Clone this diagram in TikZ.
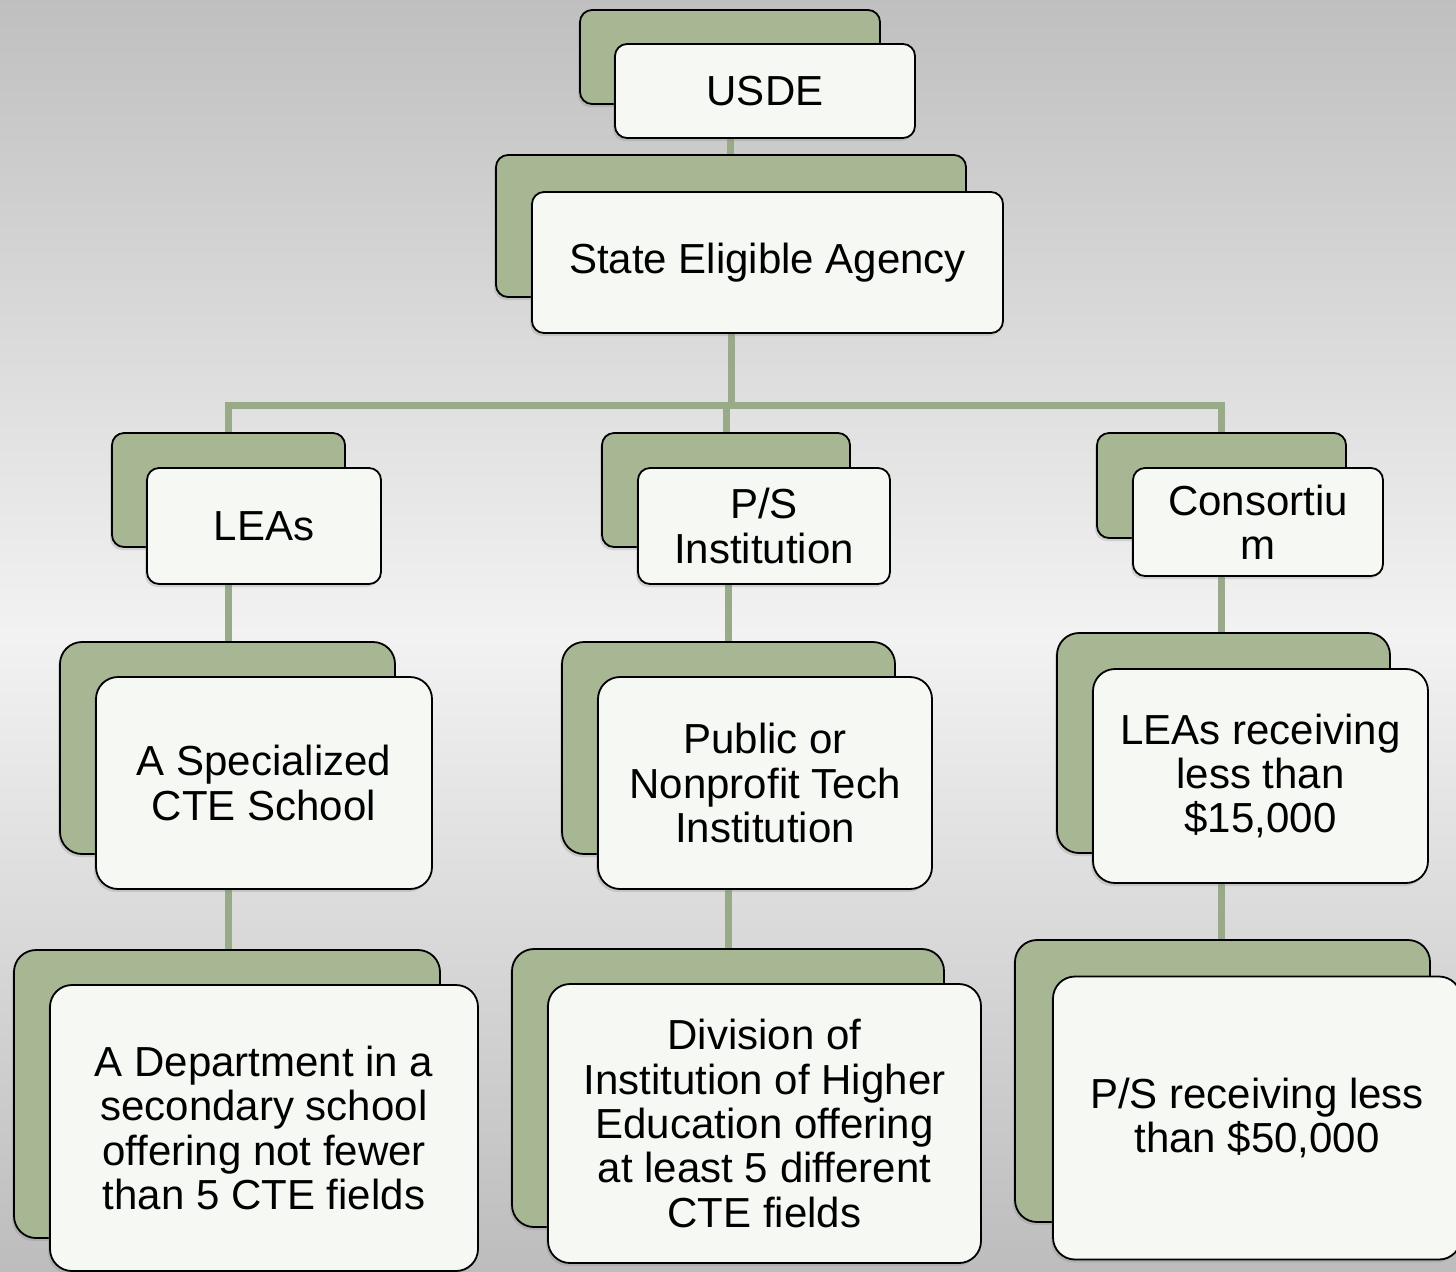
\documentclass[tikz,border=0pt]{standalone}
\usepackage{fontspec}
\setmainfont{Liberation Sans}
\usepackage{tikz}
\usetikzlibrary{backgrounds,shadows}
\definecolor{sage}{RGB}{167,183,148}
\definecolor{paper}{RGB}{246,248,243}
\definecolor{linegreen}{RGB}{152,170,136}
\tikzset{>=latex}

\begin{document}
\begin{tikzpicture}
    [
      x=0.5pt, y=-0.5pt,
      box/.style={rectangle, rounded corners=6pt, draw=black, line width=0.9pt, inner sep=0pt,
        drop shadow={opacity=0.25, shadow xshift=-1pt, shadow yshift=-1.5pt}},
      back/.style={box, fill=sage},
      front/.style={box, fill=paper, align=center, font=\fontsize{21}{22.2}\selectfont},
      big/.style={rounded corners=11pt},
      conn/.style={draw=linegreen, line width=3.5pt}
    ]
    \useasboundingbox (0,0) rectangle (1456,1271);
    % top two levels
    \node (usde-back) [back, minimum width=150pt, minimum height=47pt] at (730,57) {};
    \node (usde) [front, minimum width=150pt, minimum height=47pt] at (765,91) {USDE};
    \node (sea-back) [back, minimum width=235pt, minimum height=71pt] at (731,226) {};
    \node (sea) [front, minimum width=235.5pt, minimum height=70.5pt] at (767.5,262.5) {State Eligible Agency};
    \coordinate (bus) at (731,405);

    % eligible recipients
    \node (leas-back) [back, minimum width=116.5pt, minimum height=57pt] at (228.5,490) {};
    \node (leas) [front, minimum width=117pt, minimum height=58pt] at (264,526) {LEAs};
    \node (ps-back) [back, minimum width=124pt, minimum height=57pt] at (726,490) {};
    \node (ps) [front, minimum width=126pt, minimum height=58pt] at (764,526) {P/S\\Institution};
    \node (cons-back) [back, minimum width=124.5pt, minimum height=52.5pt] at (1221.5,485.5) {};
    \node (cons) [front, minimum width=125pt, minimum height=54pt] at (1258,522) {Consortiu\\m};

    \node (cte-back) [back, big, minimum width=167.5pt, minimum height=106pt] at (227.5,748) {};
    \node (cte) [front, big, minimum width=168pt, minimum height=106pt] at (264,783) {A Specialized\\CTE School};
    \node (tech-back) [back, big, minimum width=166.5pt, minimum height=106pt] at (728.5,748) {};
    \node (tech) [front, big, minimum width=167pt, minimum height=106pt] at (765,783) {Public or\\Nonprofit Tech\\Institution};
    \node (leas15-back) [back, big, minimum width=166.5pt, minimum height=110pt] at (1223.5,743) {};
    \node (leas15) [front, big, minimum width=167.5pt, minimum height=107pt] at (1260.5,776) {LEAs receiving\\less than\\\$15,000};

    \node (dept-back) [back, big, minimum width=213pt, minimum height=144pt] at (227,1094) {};
    \node (dept) [front, big, minimum width=214pt, minimum height=143pt] at (264,1128) {A Department in a\\secondary school\\offering not fewer\\than 5 CTE fields};
    \node (div-back) [back, big, minimum width=216pt, minimum height=139pt] at (728,1088) {};
    \node (div) [front, big, minimum width=216.5pt, minimum height=139.5pt] at (764.5,1123.5) {Division of\\Institution of Higher\\Education offering\\at least 5 different\\CTE fields};
    \node (ps50-back) [back, big, minimum width=207.5pt, minimum height=141pt] at (1222.5,1081) {};
    \node (ps50) [front, big, minimum width=204pt, minimum height=141.5pt] at (1257,1118) {P/S receiving less\\than \$50,000};

    \begin{scope}[on background layer]
      \shade [top color=black!25, bottom color=black!26, middle color=black!5] (0,0) rectangle (1456,1271);
      \draw [conn] (usde-back) -- (usde-back |- sea-back);
      \draw [conn] (sea-back) -- (bus);
      \draw [conn] (leas-back) |- (bus) -| (cons-back);
      \draw [conn] (bus) -| (ps-back);
      \draw [conn] (leas-back) -- (leas-back |- dept-back);
      \draw [conn] (tech-back) -- (tech-back |- ps-back);
      \draw [conn] (tech-back) -- (tech-back |- div-back);
      \draw [conn] (cons-back) -- (cons-back |- ps50-back);
    \end{scope}
  \end{tikzpicture}
\end{document}
